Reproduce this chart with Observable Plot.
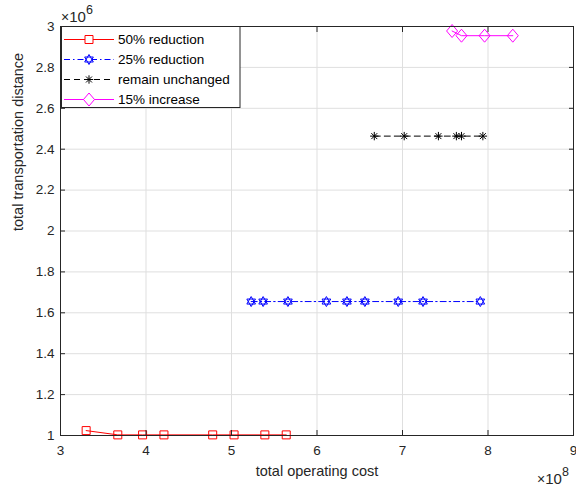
<!DOCTYPE html>
<html><head><meta charset="utf-8">
<script src="https://cdn.jsdelivr.net/npm/d3@7"></script>
<script src="https://cdn.jsdelivr.net/npm/@observablehq/plot@0.6"></script>
<style>body{margin:0;background:#fff} svg{display:block}</style>
</head><body><div id="chart"></div>
<script>
// ---- data (x in units of 1e8, y in units of 1e6) ----
const seriesNames = ["50% reduction", "25% reduction", "remain unchanged", "15% increase"];
const costReduce50 = [3.30, 3.67, 3.96, 4.21, 4.78, 5.03, 5.39, 5.64];
const distReduce50 = [1.024, 1.003, 1.003, 1.003, 1.003, 1.003, 1.003, 1.003];
const costReduce25 = [5.23, 5.37, 5.66, 6.11, 6.35, 6.56, 6.95, 7.24, 7.91];
const distReduce25 = [1.655, 1.655, 1.655, 1.655, 1.655, 1.655, 1.655, 1.655, 1.655];
const costUnchanged = [6.67, 7.02, 7.42, 7.63, 7.69, 7.94];
const distUnchanged = [2.464, 2.464, 2.464, 2.464, 2.464, 2.464];
const costIncrease15 = [7.58, 7.69, 7.96, 8.29];
const distIncrease15 = [2.978, 2.955, 2.955, 2.955];
const xTicks = [3, 4, 5, 6, 7, 8, 9];
const yTicks = [1, 1.2, 1.4, 1.6, 1.8, 2, 2.2, 2.4, 2.6, 2.8, 3];
const xLabel = "total operating cost";
const yLabel = "total transportation distance";

// ---- symbols (MATLAB-like) ----
const sqSym = {draw(c){c.moveTo(-4,-4);c.lineTo(4,-4);c.lineTo(4,4);c.lineTo(-4,4);c.closePath();}};
const diaSym = {draw(c){c.moveTo(0,-6.5);c.lineTo(5.5,0);c.lineTo(0,6.5);c.lineTo(-5.5,0);c.closePath();}};
const hexSym = {draw(c){const R=5;for(const off of [-90,90]){for(let i=0;i<3;i++){const a=(off+i*120)*Math.PI/180;const px=R*Math.cos(a),py=R*Math.sin(a);if(i)c.lineTo(px,py);else c.moveTo(px,py);}c.closePath();}}};
const astSym = {draw(c){const r=4.2,d=r*0.7071;c.moveTo(-r,0);c.lineTo(r,0);c.moveTo(0,-r);c.lineTo(0,r);c.moveTo(-d,-d);c.lineTo(d,d);c.moveTo(-d,d);c.lineTo(d,-d);}};

const styles = [
  {color: "#ff0000", dash: null, sym: sqSym},
  {color: "#0000ff", dash: "6,3,1.5,3", sym: hexSym},
  {color: "#000000", dash: "6,4", sym: astSym},
  {color: "#ff00ff", dash: null, sym: diaSym}
];
const xs = [costReduce50, costReduce25, costUnchanged, costIncrease15];
const ys = [distReduce50, distReduce25, distUnchanged, distIncrease15];
const seriesData = seriesNames.map((name, i) => xs[i].map((x, j) => ({name, cost: x, dist: ys[i][j]})));

const font = "'Liberation Sans', Arial, Helvetica, sans-serif";
const marks = [
  Plot.gridX(xTicks, {stroke: "#dfdfdf", strokeOpacity: 1}),
  Plot.gridY(yTicks, {stroke: "#dfdfdf", strokeOpacity: 1})
];
seriesData.forEach((d, i) => {
  const s = styles[i];
  marks.push(Plot.line(d, {x: "cost", y: "dist", stroke: s.color, strokeWidth: 1, strokeDasharray: s.dash}));
  marks.push(Plot.dot(d, {x: "cost", y: "dist", symbol: s.sym, stroke: s.color, fill: "none", strokeWidth: 1}));
});
marks.push(
  Plot.frame({stroke: "#262626", strokeWidth: 1}),
  Plot.axisX(xTicks, {anchor: "bottom", tickSize: 0, tickPadding: 10, label: null, tickFormat: d => String(d), fontSize: 13.5, fill: "#262626"}),
  Plot.axisY(yTicks, {anchor: "left", tickSize: 0, tickPadding: 6, label: null, tickFormat: d => String(d), fontSize: 13.5, fill: "#262626"}),
  Plot.axisX(xTicks, {anchor: "bottom", tickSize: -5, label: null, tickFormat: () => "", stroke: "#262626"}),
  Plot.axisX(xTicks, {anchor: "top", tickSize: -5, label: null, tickFormat: () => "", stroke: "#262626"}),
  Plot.axisY(yTicks, {anchor: "left", tickSize: -5, label: null, tickFormat: () => "", stroke: "#262626"}),
  Plot.axisY(yTicks, {anchor: "right", tickSize: -5, label: null, tickFormat: () => "", stroke: "#262626"}),
  Plot.text([xLabel], {text: d => d, frameAnchor: "bottom", dy: 40, fontSize: 14.5, fill: "#262626"}),
  Plot.text([yLabel], {text: d => d, frameAnchor: "left", dx: -42, rotate: -90, fontSize: 14.5, fill: "#262626"})
);

const plot = Plot.plot({
  width: 576, height: 489,
  marginLeft: 60, marginRight: 3, marginTop: 26, marginBottom: 54,
  style: {fontFamily: font, fontSize: "13.5px", color: "#262626", background: "#fff", overflow: "visible"},
  x: {domain: [3, 9]},
  y: {domain: [1, 3]},
  marks
});
document.getElementById("chart").appendChild(plot);

// ---- exponent labels ----
const svg = d3.select(plot);
function expLabel(x, y, exp) {
  const t = svg.append("text").attr("x", x).attr("y", y).attr("fill", "#262626")
    .attr("text-anchor", "start").attr("font-family", font).attr("font-size", 15);
  t.append("tspan").attr("font-size", 14).text("×");
  t.append("tspan").text("10");
  t.append("tspan").attr("font-size", 12.5).attr("dy", -8.5).text(exp);
}
expLabel(61, 22, "6");
expLabel(537, 484, "8");

// ---- legend ----
const lg = svg.append("g").attr("text-anchor", "start");
lg.append("rect").attr("x", 61.5).attr("y", 26.5).attr("width", 178.5).attr("height", 81)
  .attr("fill", "#fff").attr("stroke", "#262626").attr("stroke-width", 1);
seriesNames.forEach((name, i) => {
  const s = styles[i];
  const y = 39.5 + 20 * i;
  lg.append("line").attr("x1", 64).attr("x2", 114).attr("y1", y).attr("y2", y)
    .attr("stroke", s.color).attr("stroke-width", 1).attr("stroke-dasharray", s.dash);
  lg.append("path").attr("d", d3.symbol(s.sym)()).attr("transform", `translate(89,${y})`)
    .attr("fill", "#fff").attr("stroke", s.color).attr("stroke-width", 1);
  lg.append("text").attr("x", 118).attr("y", y).attr("dy", "0.35em").attr("fill", "#000")
    .attr("text-anchor", "start").attr("font-family", font).attr("font-size", 13.5).text(name);
});
</script></body></html>
